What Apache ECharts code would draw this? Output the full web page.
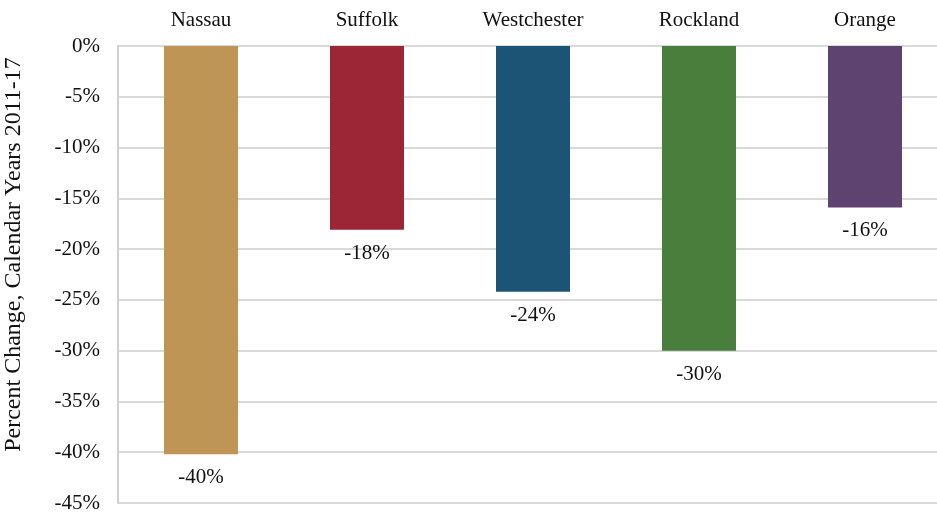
<!DOCTYPE html>
<html lang="en" style="height: 100%;margin: 0;">
<head>
    <meta charset="UTF-8">
    <title>chart</title>
</head>
<body style="height: 100%;margin: 0;background: #fff;">
<div id="chart" style="width: 937px;height: 513px;margin: 0;"></div>
<script src="https://cdn.jsdelivr.net/npm/echarts@6/dist/echarts.min.js"></script>
<script>
    var counties = ['Nassau', 'Suffolk', 'Westchester', 'Rockland', 'Orange'];
    var changes = [-40.2, -18.1, -24.2, -30.0, -15.9];
    var labels = ['-40%', '-18%', '-24%', '-30%', '-16%'];
    var colors = ['#bf9555', '#9c2636', '#1b5475', '#4a7e3d', '#5e4370'];

    var myChart = echarts.init(document.getElementById('chart'), null, {renderer: 'canvas'});
    var font = 'Liberation Serif';

    var data = [];
    for (var i = 0; i < changes.length; i++) {
        data.push({
            value: changes[i],
            itemStyle: {color: colors[i]},
            label: {formatter: labels[i]}
        });
    }

    var option = {
        animation: false,
        grid: {left: 118, top: 46, right: -11, bottom: 10, outerBoundsMode: 'none', containLabel: false},
        xAxis: {
            type: 'category',
            position: 'top',
            data: counties,
            axisLine: {show: false},
            axisTick: {show: false},
            axisLabel: {margin: 15, color: '#111', fontFamily: font, fontSize: 21}
        },
        yAxis: {
            type: 'value',
            min: -45,
            max: 0,
            interval: 5,
            name: 'Percent Change, Calendar Years 2011-17',
            nameLocation: 'middle',
            nameGap: 92,
            // nudged up along the text direction to sit like the original
            nameTextStyle: {color: '#111', fontFamily: font, fontSize: 24, padding: [0, 0, 0, 40]},
            axisLine: {show: true, lineStyle: {color: '#d0d0d0', width: 2}},
            axisTick: {show: false},
            axisLabel: {margin: 18, color: '#111', fontFamily: font, fontSize: 21, formatter: '{value}%'},
            splitLine: {lineStyle: {color: '#d9d9d9', width: 2}}
        },
        series: [{
            type: 'bar',
            data: data,
            barWidth: 74,
            label: {
                show: true,
                position: 'bottom',
                distance: 13,
                color: '#111',
                fontFamily: font,
                fontSize: 21
            }
        }]
    };
    myChart.setOption(option, true);
</script>
</body>
</html>
